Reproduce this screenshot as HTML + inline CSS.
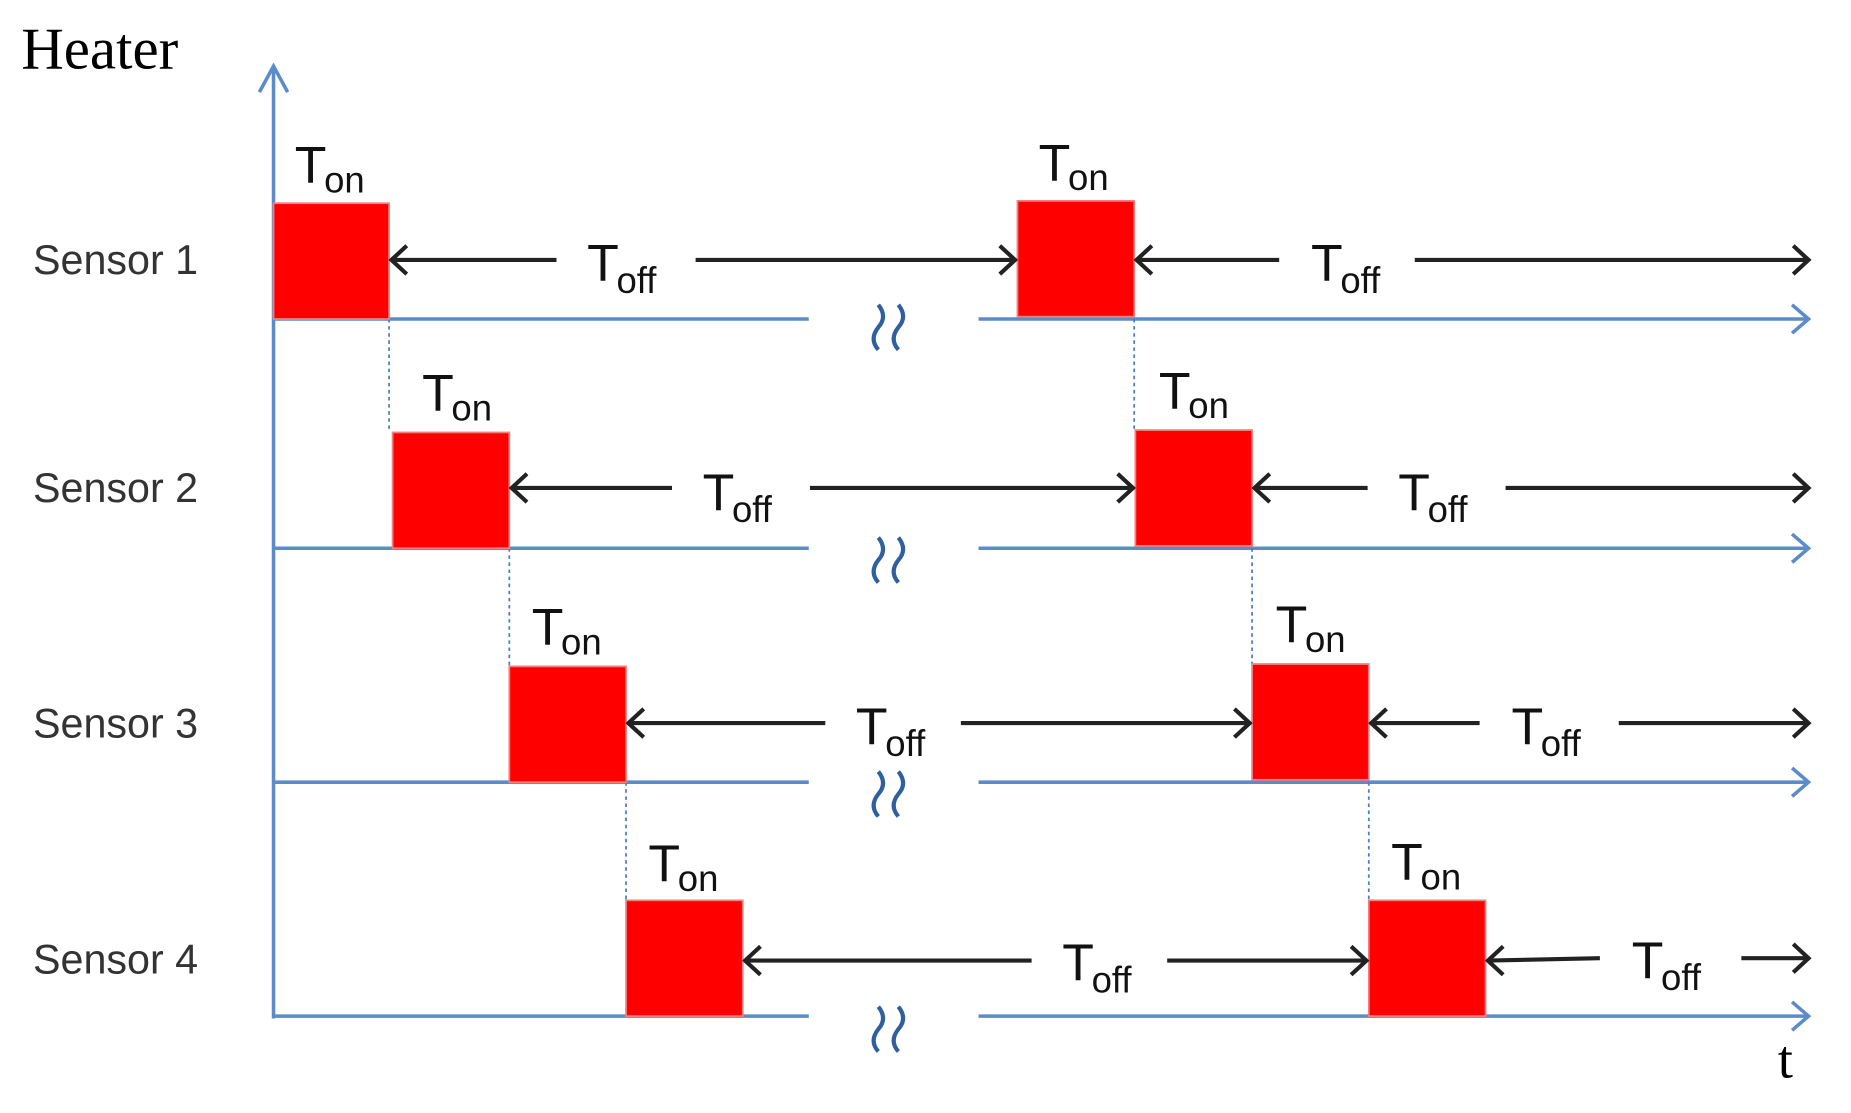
<!DOCTYPE html>
<html><head><meta charset="utf-8"><style>
html,body{margin:0;padding:0;background:#fff;}
svg{display:block;}
.s{font-family:"Liberation Sans",sans-serif;font-size:35px;fill:#333;}
.T{font-family:"Liberation Sans",sans-serif;font-size:44px;fill:#111;}
.sub{font-size:31px;}
</style></head><body>
<svg width="1851" height="1113" viewBox="0 0 1570 942" preserveAspectRatio="none" xmlns="http://www.w3.org/2000/svg">
<text x="18" y="58" font-family="Liberation Serif,serif" font-size="50" fill="#000">Heater</text>
<text x="1508" y="912" font-family="Liberation Serif,serif" font-size="46" fill="#000">t</text>
<g stroke="#5b8cc9" stroke-width="3" fill="none">
<line x1="232" y1="56" x2="232" y2="862"/>
<polyline points="220,78 232,56 244,78"/>
</g>
<g stroke="#5b8cc9" stroke-width="3" fill="none">
<line x1="232" y1="270" x2="686" y2="270"/><line x1="830" y1="270" x2="1533" y2="270"/><polyline points="1520,258 1534,270 1520,282"/>
<line x1="232" y1="464" x2="686" y2="464"/><line x1="830" y1="464" x2="1533" y2="464"/><polyline points="1520,452 1534,464 1520,476"/>
<line x1="232" y1="662" x2="686" y2="662"/><line x1="830" y1="662" x2="1533" y2="662"/><polyline points="1520,650 1534,662 1520,674"/>
<line x1="232" y1="860" x2="686" y2="860"/><line x1="830" y1="860" x2="1533" y2="860"/><polyline points="1520,848 1534,860 1520,872"/>
</g>
<g stroke="#2f5f9f" stroke-width="3.5" fill="none">
<path d="M745,258 q8,10 0,19 q-8,10 0,19"/><path d="M762,258 q8,10 0,19 q-8,10 0,19"/>
<path d="M745,455 q8,10 0,19 q-8,10 0,19"/><path d="M762,455 q8,10 0,19 q-8,10 0,19"/>
<path d="M745,653 q8,10 0,19 q-8,10 0,19"/><path d="M762,653 q8,10 0,19 q-8,10 0,19"/>
<path d="M745,852 q8,10 0,19 q-8,10 0,19"/><path d="M762,852 q8,10 0,19 q-8,10 0,19"/>
</g>
<g stroke="#4a7fc4" stroke-width="1.5" stroke-dasharray="3,3">
<line x1="330" y1="270" x2="330" y2="366"/><line x1="432" y1="464" x2="432" y2="564"/><line x1="531" y1="662" x2="531" y2="762"/>
<line x1="962" y1="270" x2="962" y2="364"/><line x1="1062" y1="464" x2="1062" y2="562"/><line x1="1161" y1="662" x2="1161" y2="762"/>
</g>
<g fill="#ff0000" stroke="#f08080" stroke-width="1.5">
<rect x="232" y="172" width="98" height="98"/><rect x="863" y="170" width="99" height="98"/>
<rect x="333" y="366" width="99" height="98"/><rect x="963" y="364" width="99" height="98"/>
<rect x="432" y="564" width="99" height="98"/><rect x="1062" y="562" width="99" height="98"/>
<rect x="531" y="762" width="99" height="98"/><rect x="1161" y="762" width="99" height="98"/>
</g>
<g stroke="#222" stroke-width="3.5" fill="none">
<line x1="332" y1="220" x2="472" y2="220"/><polyline points="345,208 332,220 345,232"/>
<line x1="590" y1="220" x2="861" y2="220"/><polyline points="848,208 861,220 848,232"/>
<line x1="964" y1="220" x2="1085" y2="220"/><polyline points="977,208 964,220 977,232"/>
<line x1="1200" y1="220" x2="1534" y2="220"/><polyline points="1521,208 1534,220 1521,232"/>
<line x1="434" y1="413" x2="570" y2="413"/><polyline points="447,401 434,413 447,425"/>
<line x1="687" y1="413" x2="961" y2="413"/><polyline points="948,401 961,413 948,425"/>
<line x1="1064" y1="413" x2="1160" y2="413"/><polyline points="1077,401 1064,413 1077,425"/>
<line x1="1277" y1="413" x2="1534" y2="413"/><polyline points="1521,401 1534,413 1521,425"/>
<line x1="533" y1="612" x2="700" y2="612"/><polyline points="546,600 533,612 546,624"/>
<line x1="815" y1="612" x2="1060" y2="612"/><polyline points="1047,600 1060,612 1047,624"/>
<line x1="1163" y1="612" x2="1255" y2="612"/><polyline points="1176,600 1163,612 1176,624"/>
<line x1="1373" y1="612" x2="1534" y2="612"/><polyline points="1521,600 1534,612 1521,624"/>
<line x1="632" y1="813" x2="875" y2="813"/><polyline points="645,801 632,813 645,825"/>
<line x1="990" y1="813" x2="1159" y2="813"/><polyline points="1146,801 1159,813 1146,825"/>
<line x1="1262" y1="813" x2="1357" y2="811"/><polyline points="1275,801 1262,813 1275,825"/>
<line x1="1477" y1="811" x2="1534" y2="811"/><polyline points="1521,799 1534,811 1521,823"/>
</g>
<text class="s" x="28" y="232">Sensor 1</text>
<text class="s" x="28" y="425">Sensor 2</text>
<text class="s" x="28" y="624">Sensor 3</text>
<text class="s" x="28" y="824">Sensor 4</text>
<g class="T">
<text x="250" y="155">T<tspan class="sub" dx="-2" dy="8">on</tspan></text>
<text x="881" y="153">T<tspan class="sub" dx="-2" dy="8">on</tspan></text>
<text x="358" y="348">T<tspan class="sub" dx="-2" dy="8">on</tspan></text>
<text x="983" y="346">T<tspan class="sub" dx="-2" dy="8">on</tspan></text>
<text x="451" y="546">T<tspan class="sub" dx="-2" dy="8">on</tspan></text>
<text x="1082" y="544">T<tspan class="sub" dx="-2" dy="8">on</tspan></text>
<text x="550" y="746">T<tspan class="sub" dx="-2" dy="8">on</tspan></text>
<text x="1180" y="745">T<tspan class="sub" dx="-2" dy="8">on</tspan></text>
<text x="498" y="238">T<tspan class="sub" dx="-2" dy="10">off</tspan></text>
<text x="1112" y="238">T<tspan class="sub" dx="-2" dy="10">off</tspan></text>
<text x="596" y="432">T<tspan class="sub" dx="-2" dy="10">off</tspan></text>
<text x="1186" y="432">T<tspan class="sub" dx="-2" dy="10">off</tspan></text>
<text x="726" y="630">T<tspan class="sub" dx="-2" dy="10">off</tspan></text>
<text x="1282" y="630">T<tspan class="sub" dx="-2" dy="10">off</tspan></text>
<text x="901" y="830">T<tspan class="sub" dx="-2" dy="10">off</tspan></text>
<text x="1384" y="828">T<tspan class="sub" dx="-2" dy="10">off</tspan></text>
</g>
</svg>
</body></html>
